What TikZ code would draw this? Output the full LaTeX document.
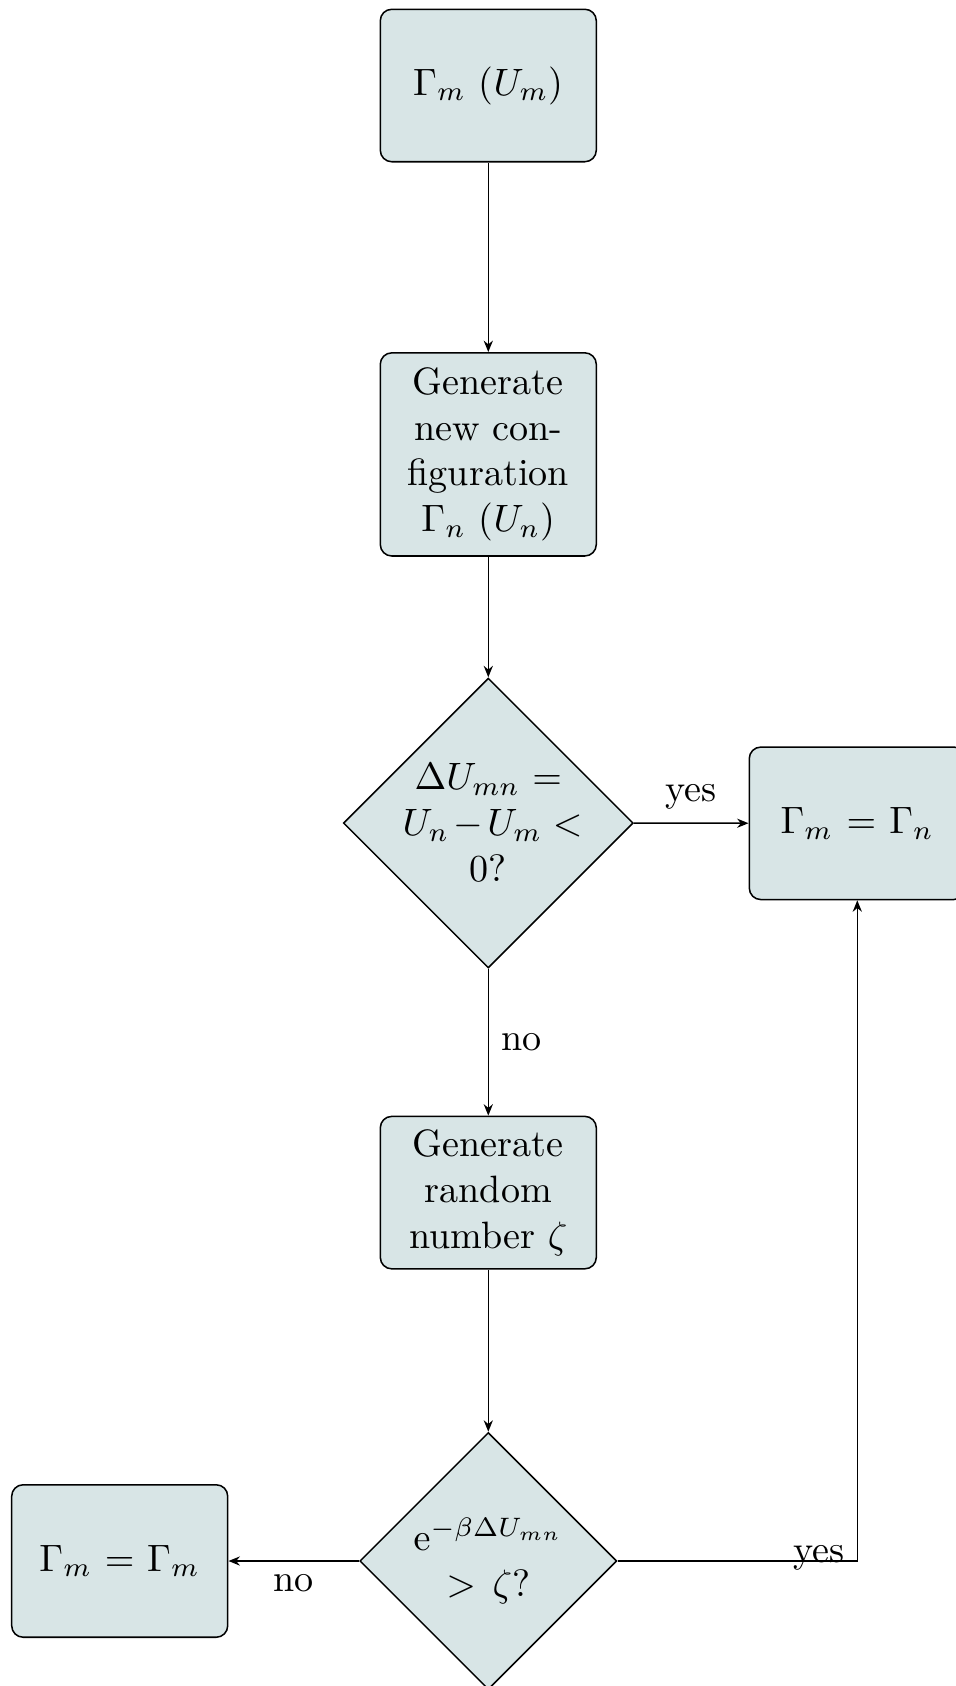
\documentclass[tikz,border=0pt]{standalone}
\usetikzlibrary{shapes.geometric,arrows.meta}
\definecolor{boxfill}{RGB}{216,229,230}
\begin{document}
\begin{tikzpicture}[x=0.26236pt,y=-0.26236pt,
  block/.style={rectangle, draw, fill=boxfill, rounded corners=3pt, text width=5em, align=center, minimum height=4em, inner sep=0.3333em},
  decision/.style={diamond, draw, fill=boxfill, aspect=1, text width=4.5em, align=center, inner sep=0pt},
  conn/.style={draw, -{Stealth[length=3pt,width=2.4pt]}}]
\useasboundingbox (0,0) rectangle (956,1686);
\node[block] (start) at (488.3,85.5) {$\Gamma_m$ ($U_m$)};
\node[block, minimum height=53.3pt] (gen) at (488.3,454.4) {Generate new configuration $\Gamma_n$ ($U_n$)};
\node[decision] (dec1) at (488.3,823) {$\Delta U_{mn} =$\\ $U_n\mskip2mu{-}\mskip2mu U_m <$\\ 0?};
\node[block] (upd) at (857.3,823.3) {$\Gamma_m = \Gamma_n$};
\node[block] (rand) at (488.3,1192.6) {Generate random number $\zeta$};
\node[decision] (dec2) at (488.3,1561) {$\mathrm{e}^{-\beta\Delta U_{mn}}$\\ $>\zeta$?};
\node[block] (keep) at (119.7,1561) {$\Gamma_m = \Gamma_m$};
\draw[conn] (start) -- (gen);
\draw[conn] (gen) -- (dec1);
\draw[conn] (dec1) -- node[above] (lyes1) {yes} (upd);
\draw[conn] (dec1) -- node[right] (lno1) {no} (rand);
\draw[conn] (rand) -- (dec2);
\draw[conn] (dec2) -- node[below] (lno2) {no} (keep);
\draw[conn] (dec2) -| node[pos=0.42, yshift=0.7pt] (lyes2) {yes} (upd);
\end{tikzpicture}
\end{document}
